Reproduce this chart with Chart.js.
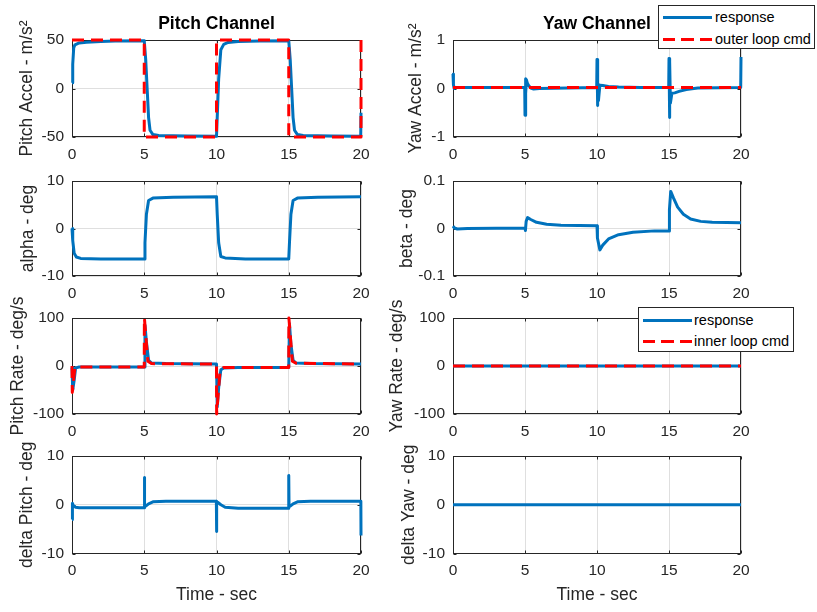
<!DOCTYPE html>
<html lang="en">
<head>
  <meta charset="UTF-8" />
  <title>Pitch / Yaw Channel Response</title>
  <script src="https://cdn.jsdelivr.net/npm/chart.js"></script>
  <style>
    body { margin: 0; background: #fff; }
    #fig {
      position: relative;
      width: 817px;
      height: 612px;
      overflow: hidden;
      font-family: "Liberation Sans", Arial, sans-serif;
    }
    #fig canvas { position: absolute; }

    /* legends sit on top of the axes, like the plot tool does it */
    .legend {
      position: absolute;
      box-sizing: border-box;
      background: #fff;
      border: 1px solid #262626;
      z-index: 5;
    }
    .legend .sample { position: absolute; height: 3px; width: 49px; }
    .legend .solid { background: #0072bd; }
    .legend .dash { background: repeating-linear-gradient(90deg, #ff0000 0 12px, transparent 12px 18.5px); }
    .legend span {
      position: absolute;
      font-size: 14.5px;
      line-height: 20px;
      color: #000;
      white-space: nowrap;
    }
  </style>
</head>

<body>
  <div id="fig">
    <div class="legend" style="left:658px; top:5px; width:157px; height:44px;">
      <div class="sample solid" style="left:4px; top:10px;"></div>
      <span style="left:56px; top:1px;">response</span>
      <div class="sample dash" style="left:4px; top:32px;"></div>
      <span style="left:56px; top:23px;">outer loop cmd</span>
    </div>
    <div class="legend" style="left:638px; top:307px; width:156px; height:45px;">
      <div class="sample solid" style="left:4px; top:11px;"></div>
      <span style="left:55px; top:2px;">response</span>
      <div class="sample dash" style="left:4px; top:32px;"></div>
      <span style="left:55px; top:23px;">inner loop cmd</span>
    </div>
  </div>

  <script>
    // ---- data -------------------------------------------------------------
    const timeTicks = [0, 5, 10, 15, 20];

    // Pitch accel (m/s^2)
    const pitchAccelT = [0, 0.05, 0.12, 0.2, 0.5, 1, 2, 3, 5, 5.1, 5.2, 5.3, 5.4, 5.6, 6, 8, 10, 10.05, 10.15, 10.3, 10.5, 10.8, 11.5, 13, 15, 15.1, 15.2, 15.3, 15.4, 15.6, 16, 18, 19.98, 20];
    const pitchAccelResp = [6, 25, 42, 45, 47, 47.8, 48.5, 49, 49.3, 30, 0, -30, -43, -47.5, -48.5, -49, -49.3, -30, 10, 40, 45.5, 47.5, 48.5, 49, 49.3, 30, 0, -30, -43, -47.5, -48.5, -49, -49.3, -25];
    const pitchAccelCmdT = [0, 5, 5, 10, 10, 15, 15, 20, 20];
    const pitchAccelCmd = [50, 50, -50, -50, 50, 50, -50, -50, 50];
    const pitchAccelTicks = [-50, 0, 50];

    // Yaw accel (m/s^2)
    const yawAccelT = [0, 0.03, 0.08, 0.2, 1, 3, 4.98, 5.0, 5.03, 5.06, 5.1, 5.15, 5.25, 5.4, 5.6, 6, 8, 9.98, 10.0, 10.03, 10.06, 10.1, 10.2, 10.4, 10.8, 11.5, 13, 14.98, 15.0, 15.03, 15.06, 15.1, 15.2, 15.4, 15.7, 16.2, 17, 19.98, 20];
    const yawAccelResp = [0.3, 0.08, 0.0, 0.02, 0.02, 0.02, 0.02, -0.55, 0.2, -0.1, 0.18, 0.12, 0.06, 0.01, -0.01, 0.0, 0.01, 0.02, 0.6, -0.35, 0.1, -0.25, 0.07, 0.06, 0.04, 0.03, 0.02, 0.02, 0.62, -0.6, 0.55, -0.3, -0.1, -0.09, -0.06, -0.02, 0.01, 0.02, 0.65];
    const yawAccelCmdT = [0, 20];
    const yawAccelCmd = [0.02, 0.02];
    const yawAccelTicks = [-1, 0, 1];

    // Angle of attack (deg)
    const alphaT = [0, 0.05, 0.15, 0.3, 0.6, 2, 5, 5.05, 5.15, 5.3, 5.6, 7, 10, 10.05, 10.15, 10.3, 10.6, 12, 15, 15.05, 15.15, 15.3, 15.6, 17, 20];
    const alphaResp = [0, -2.5, -5.2, -6.0, -6.3, -6.4, -6.4, -3, 3, 5.9, 6.4, 6.6, 6.7, 3, -3, -5.9, -6.2, -6.4, -6.4, -3, 3, 5.9, 6.4, 6.6, 6.7];
    const alphaTicks = [-10, 0, 10];

    // Sideslip (deg)
    const betaT = [0, 0.1, 0.3, 1, 5, 5.03, 5.08, 5.18, 5.4, 5.8, 6.5, 7.5, 10, 10.03, 10.2, 10.4, 10.8, 11.5, 12.5, 14, 15, 15.03, 15.12, 15.3, 15.6, 16, 16.5, 17.2, 18, 20];
    const betaResp = [0.005, 0.001, -0.001, 0.0, 0.001, -0.004, 0.015, 0.023, 0.019, 0.013, 0.009, 0.007, 0.006, -0.02, -0.045, -0.035, -0.022, -0.013, -0.008, -0.005, -0.005, 0.04, 0.078, 0.065, 0.045, 0.03, 0.02, 0.015, 0.013, 0.012];
    const betaTicks = [-0.1, 0, 0.1];

    // Pitch rate (deg/s)
    const pitchRateT = [0, 0.05, 0.15, 0.25, 0.5, 5, 5.05, 5.15, 5.3, 5.5, 6.5, 10, 10.05, 10.15, 10.3, 10.5, 11.5, 15, 15.05, 15.15, 15.3, 15.5, 16.5, 20];
    const pitchRateResp = [-3, -50, -30, -4, -2, -2, 85, 50, 12, 6, 5, 4, -85, -45, -8, -4, -3, -3, 88, 45, 12, 6, 5, 4];
    const pitchRateCmdT = [0, 0.02, 0.2, 0.4, 5, 5.01, 5.25, 5.5, 10, 10.01, 10.25, 10.5, 15, 15.01, 15.25, 15.5, 20];
    const pitchRateCmd = [0, -55, -3, -2, -2, 100, 10, 5, 4, -100, -8, -3, -3, 100, 10, 6, 4];
    const rateTicks = [-100, 0, 100];

    // Yaw rate (deg/s)
    const yawRateT = [0, 20];
    const yawRateResp = [0, 0];
    const yawRateCmd = [0, 0];

    // Fin deflections (deg)
    const deltaPitchT = [0, 0.03, 0.1, 0.25, 0.5, 5, 5.01, 5.03, 5.1, 5.3, 5.6, 6.5, 9.99, 10, 10.02, 10.1, 10.3, 10.6, 11.5, 14.99, 15, 15.02, 15.1, 15.3, 15.6, 16.5, 19.99, 20];
    const deltaPitch = [-3, 0.3, -0.2, -0.5, -0.6, -0.6, 5.6, -0.3, -0.3, 0.2, 0.6, 0.7, 0.7, -5.5, 0.6, 0.5, 0, -0.5, -0.7, -0.7, 6, -0.3, -0.3, 0.2, 0.6, 0.7, 0.7, -6.3];
    const deltaYawT = [0, 20];
    const deltaYaw = [0, 0];
    const deltaTicks = [-10, 0, 10];

    // ---- layout -----------------------------------------------------------
    const FONT = '"Liberation Sans", Arial, sans-serif';
    const INK = '#262626';
    const colLeft = [0, 380];        // canvas left edge per column
    const axLeft = [72, 453];        // plot box left edge per column
    const padRight = 18;             // room for the last x tick label
    const canvasW = 379;             // box right edge lands at 361 / 741
    const rowTop = [40, 181, 318, 456];
    const rowBottom = [137, 276, 414, 554];

    Chart.defaults.font.family = FONT;
    Chart.defaults.color = INK;

    const xy = (t, v) => t.map((x, i) => ({ x: x, y: v[i] }));

    const resp = (t, v) => ({
      label: 'response', data: xy(t, v), borderColor: '#0072bd', borderWidth: 3,
      borderJoinStyle: 'round', pointRadius: 0, tension: 0, clip: 3, order: 1
    });
    const cmd = (label, t, v) => ({
      label: label, data: xy(t, v), borderColor: '#ff0000', borderWidth: 3,
      borderDash: [12, 7], borderJoinStyle: 'round', pointRadius: 0, tension: 0, clip: 3, order: 0
    });

    // box round the plot area plus short inward tick marks
    const axesBox = {
      id: 'axesBox',
      beforeDatasetsDraw(chart) {
        const { ctx, chartArea: a, scales: { x, y } } = chart;
        const l = Math.round(a.left) + 0.5, r = Math.round(a.right) - 0.5;
        const t = Math.round(a.top) + 0.5, b = Math.round(a.bottom) - 0.5;
        ctx.save();
        ctx.strokeStyle = INK;
        ctx.lineWidth = 1;
        ctx.strokeRect(l, t, r - l, b - t);
        ctx.beginPath();
        x.ticks.forEach(tk => {
          const px = Math.round(x.getPixelForValue(tk.value)) + 0.5;
          ctx.moveTo(px, b); ctx.lineTo(px, b - 3);
          ctx.moveTo(px, t); ctx.lineTo(px, t + 3);
        });
        y.ticks.forEach(tk => {
          const py = Math.round(y.getPixelForValue(tk.value)) + 0.5;
          ctx.moveTo(l, py); ctx.lineTo(l + 3, py);
          ctx.moveTo(r, py); ctx.lineTo(r - 3, py);
        });
        ctx.stroke();
        ctx.restore();
      }
    };

    const panels = [
      { col: 0, row: 0, title: 'Pitch Channel', yLabel: 'Pitch Accel - m/s²', labelX: 27, ticks: pitchAccelTicks,
        datasets: [resp(pitchAccelT, pitchAccelResp), cmd('outer loop cmd', pitchAccelCmdT, pitchAccelCmd)] },
      { col: 1, row: 0, title: 'Yaw Channel', yLabel: 'Yaw Accel - m/s²', labelX: 416, ticks: yawAccelTicks,
        datasets: [resp(yawAccelT, yawAccelResp), cmd('outer loop cmd', yawAccelCmdT, yawAccelCmd)] },
      { col: 0, row: 1, yLabel: 'alpha - deg', labelX: 28, ticks: alphaTicks,
        datasets: [resp(alphaT, alphaResp)] },
      { col: 1, row: 1, yLabel: 'beta - deg', labelX: 407.5, ticks: betaTicks,
        datasets: [resp(betaT, betaResp)] },
      { col: 0, row: 2, yLabel: 'Pitch Rate - deg/s', labelX: 18, ticks: rateTicks,
        datasets: [resp(pitchRateT, pitchRateResp), cmd('inner loop cmd', pitchRateCmdT, pitchRateCmd)] },
      { col: 1, row: 2, yLabel: 'Yaw Rate - deg/s', labelX: 397, ticks: rateTicks,
        datasets: [resp(yawRateT, yawRateResp), cmd('inner loop cmd', yawRateT, yawRateCmd)] },
      { col: 0, row: 3, yLabel: 'delta Pitch - deg', labelX: 27.5, ticks: deltaTicks, xLabel: 'Time - sec',
        datasets: [resp(deltaPitchT, deltaPitch)] },
      { col: 1, row: 3, yLabel: 'delta Yaw - deg', labelX: 409, ticks: deltaTicks, xLabel: 'Time - sec',
        datasets: [resp(deltaYawT, deltaYaw)] }
    ];

    const fig = document.getElementById('fig');

    panels.forEach(p => {
      const top = p.row === 0 ? 0 : rowTop[p.row] - 40;
      const padTop = p.row === 0 ? 13.5 : 40;
      const xAxisH = p.row === 3 ? 52.5 : 30;
      const padBottom = p.row === 3 ? 0 : 5;
      const height = rowBottom[p.row] - top + xAxisH + padBottom;
      const padLeft = p.labelX - colLeft[p.col] - 10.5;
      const yAxisW = axLeft[p.col] - colLeft[p.col] - padLeft;

      const canvas = document.createElement('canvas');
      canvas.width = canvasW;
      canvas.height = height;
      canvas.style.left = colLeft[p.col] + 'px';
      canvas.style.top = top + 'px';
      fig.appendChild(canvas);

      new Chart(canvas.getContext('2d'), {
        type: 'line',
        data: { datasets: p.datasets },
        plugins: [axesBox],
        options: {
          responsive: false,
          animation: false,
          devicePixelRatio: 1,
          layout: { padding: { left: padLeft, right: padRight, top: padTop, bottom: padBottom } },
          plugins: {
            legend: { display: false },
            tooltip: { enabled: false },
            title: {
              display: !!p.title,
              text: p.title || '',
              fullSize: false,
              color: '#000',
              font: { size: 17.5, weight: 'bold' },
              padding: { top: 0, bottom: 5.5 }
            }
          },
          scales: {
            x: {
              type: 'linear',
              min: 0,
              max: 20,
              afterBuildTicks: s => { s.ticks = timeTicks.map(v => ({ value: v })); },
              afterFit: s => { s.height = xAxisH; },
              ticks: { font: { size: 15.5 }, padding: 8, maxRotation: 0, autoSkip: false, callback: v => String(v) },
              grid: { color: 'rgba(38,38,38,0.15)', drawTicks: false },
              border: { display: false },
              title: { display: !!p.xLabel, text: p.xLabel || '', font: { size: 17.5 }, padding: 0 }
            },
            y: {
              min: p.ticks[0],
              max: p.ticks[p.ticks.length - 1],
              afterBuildTicks: s => { s.ticks = p.ticks.map(v => ({ value: v })); },
              afterFit: s => { s.width = yAxisW; },
              ticks: { font: { size: 15.5 }, padding: 8, autoSkip: false, callback: v => String(v) },
              grid: { color: 'rgba(38,38,38,0.15)', drawTicks: false },
              border: { display: false },
              title: { display: true, text: p.yLabel, font: { size: 17.5 }, padding: 0 }
            }
          }
        }
      });
    });
  </script>
</body>
</html>
